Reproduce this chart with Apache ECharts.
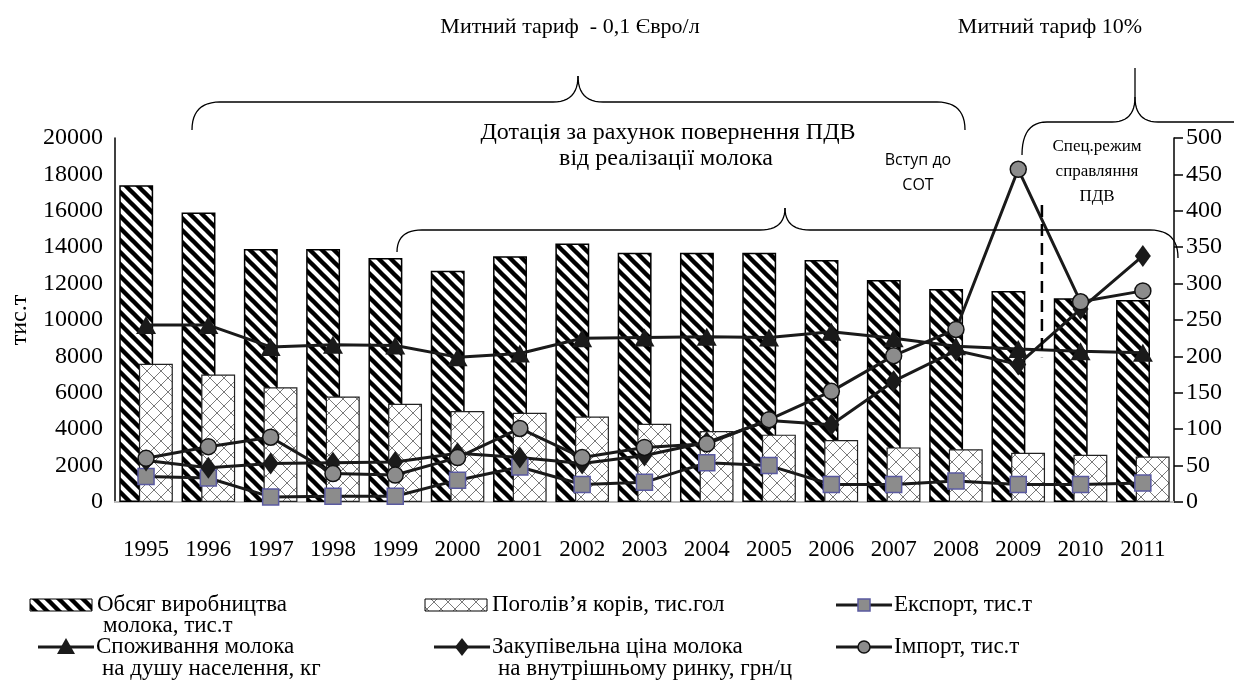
<!DOCTYPE html>
<html><head><meta charset="utf-8">
<script src="https://cdn.jsdelivr.net/npm/echarts@6/dist/echarts.min.js"></script>
<style>html,body{margin:0;padding:0;background:#fff}#c{width:1234px;height:700px}</style>
</head><body><div id="c"></div>
<script>
const years = ['1995','1996','1997','1998','1999','2000','2001','2002','2003','2004','2005','2006','2007','2008','2009','2010','2011'];
const production = [17400,15900,13900,13900,13400,12700,13500,14200,13700,13700,13700,13300,12200,11700,11600,11200,11100];
const cows = [7600,7000,6300,5800,5400,5000,4900,4700,4300,3900,3700,3400,3000,2900,2700,2600,2500];
const exportT = [35,33,7,8,8,30,48,24,27,54,50,24,24,29,24,24,26];
const price = [57,47,53,54,55,67,61,53,64,82,112,106,166,208,189,265,338];
const importT = [60,76,89,39,37,61,101,61,75,80,113,152,201,237,457,275,290];
const consumption = [243,243,213,216,215,199,204,225,226,227,226,234,225,214,210,207,205];
const leftTicks = [0,20000,2000];
const rightTicks = [0,500,50];

const SERIF = '"Liberation Serif","Times New Roman",serif';
const SANS = '"Open Sans","Noto Sans",sans-serif';

function stripeCanvas(){
  const s=12,c=document.createElement('canvas');c.width=s;c.height=s;
  const g=c.getContext('2d');g.fillStyle='#fff';g.fillRect(0,0,s,s);
  g.strokeStyle='#000';g.lineWidth=4.4;g.beginPath();
  for(let k=-1;k<=1;k++){g.moveTo(-3,-3+k*s);g.lineTo(s+3,s+3+k*s);}
  g.stroke();return c;
}
function crossCanvas(){
  const s=14,c=document.createElement('canvas');c.width=s;c.height=s;
  const g=c.getContext('2d');g.fillStyle='#fff';g.fillRect(0,0,s,s);
  g.strokeStyle='#7a7a7a';g.lineWidth=1;g.beginPath();
  for(let k=-1;k<=1;k++){g.moveTo(-2,-2+k*s);g.lineTo(s+2,s+2+k*s);g.moveTo(-2,s+2+k*s);g.lineTo(s+2,-2+k*s);}
  g.stroke();return c;
}
const stripePat={image:stripeCanvas(),repeat:'repeat'};
const crossPat={image:crossCanvas(),repeat:'repeat'};

const chart=echarts.init(document.getElementById('c'),null,{renderer:'canvas'});
const LW=3;
const lineBase={type:'line',yAxisIndex:1,lineStyle:{color:'#1a1a1a',width:LW},itemStyle:{color:'#1a1a1a'},z:3,animation:false};
const plain=v=>String(v);
const AF=24;
chart.setOption({
  animation:false,
  grid:{left:111,right:60,top:138,bottom:198},
  xAxis:{type:'category',data:years,axisLine:{lineStyle:{color:'#bdbdbd',width:2}},axisTick:{show:false},
    axisLabel:{color:'#000',fontFamily:SERIF,fontSize:23,margin:36,interval:0,hideOverlap:false}},
  yAxis:[
    {type:'value',min:leftTicks[0],max:leftTicks[1],interval:leftTicks[2],splitLine:{show:false},
     axisLine:{show:true,lineStyle:{color:'#000',width:1.5}},axisTick:{show:false},
     axisLabel:{color:'#000',fontFamily:SERIF,fontSize:AF,margin:12,formatter:plain},
     name:'тис.т',nameLocation:'middle',nameRotate:90,nameGap:72,nameTextStyle:{color:'#000',fontFamily:SERIF,fontSize:24}},
    {type:'value',min:rightTicks[0],max:rightTicks[1],interval:rightTicks[2],splitLine:{show:false},
     axisLine:{show:true,lineStyle:{color:'#000',width:1.5}},axisTick:{show:true,inside:false,length:9,lineStyle:{color:'#000',width:1.5}},
     axisLabel:{color:'#000',fontFamily:SERIF,fontSize:AF,margin:12,formatter:plain}}
  ],
  series:[
    {name:'Обсяг виробництва молока, тис.т',type:'bar',data:production,barCategoryGap:'14%',barGap:'-42%',
     itemStyle:{color:stripePat,borderColor:'#000',borderWidth:1.5},z:1},
    {name:'Поголів’я корів, тис.гол',type:'bar',data:cows,
     itemStyle:{color:crossPat,borderColor:'#222',borderWidth:1.2},z:1},
    Object.assign({},lineBase,{name:'Експорт, тис.т',data:exportT,symbol:'rect',symbolSize:16,
      itemStyle:{color:'#8c8c8c',borderColor:'#5a5aa0',borderWidth:1.5}}),
    Object.assign({},lineBase,{name:'Закупівельна ціна молока',data:price,symbol:'diamond',symbolSize:[16,22]}),
    Object.assign({},lineBase,{name:'Імпорт, тис.т',data:importT,symbol:'circle',symbolSize:16,
      itemStyle:{color:'#8c8c8c',borderColor:'#111',borderWidth:1.5}}),
    Object.assign({},lineBase,{name:'Споживання молока',data:consumption,symbol:'triangle',symbolSize:[20,18]})
  ]
});

// helpers
function txt(x,y,t,size,font,align){return {type:'text',x:x,y:y,style:{text:t,fill:'#000',font:size+'px '+(font||SERIF),textAlign:align||'center',textVerticalAlign:'middle'},z:10};}
function brace(start,segs){
  const pts=[start.slice()];let cur=start.slice();
  segs.forEach(s=>{
    if(s[0]==='L'){pts.push([s[1],s[2]]);cur=[s[1],s[2]];}
    else {const c=[s[1],s[2]],e=[s[3],s[4]];
      for(let i=1;i<=12;i++){const t=i/12,a=(1-t)*(1-t),b=2*(1-t)*t,d=t*t;
        pts.push([a*cur[0]+b*c[0]+d*e[0],a*cur[1]+b*c[1]+d*e[1]]);}
      cur=e;}
  });
  return {type:'polyline',shape:{points:pts},style:{fill:null,stroke:'#000',lineWidth:1.3},z:10};
}
const p14=chart.convertToPixel({xAxisIndex:0},14), p15=chart.convertToPixel({xAxisIndex:0},15);
const dashX=p14+(p15-p14)*0.38;
const dTop=chart.convertToPixel({yAxisIndex:1},408), dBot=chart.convertToPixel({yAxisIndex:1},199);

const graphics=[
  txt(570,27,'Митний тариф  - 0,1 Євро/л',22),
  txt(1050,27,'Митний тариф 10%',22),
  brace([192,130],[['Q',192,102,220,102],['L',553,102],['Q',578,102,578,76]]),
  brace([965,130],[['Q',965,102,937,102],['L',603,102],['Q',578,102,578,76]]),
  brace([397,252],[['Q',397,230,422,230],['L',760,230],['Q',785,230,785,208]]),
  brace([1178,258],[['Q',1178,230,1150,230],['L',810,230],['Q',785,230,785,208]]),
  brace([1022,155],[['Q',1022,122,1047,122],['L',1112,122],['Q',1135,122,1135,97],['L',1135,68]]),
  brace([1234,122],[['L',1158,122],['Q',1135,122,1135,97]]),
  txt(668,133,'Дотація за рахунок повернення ПДВ',24),
  txt(666,159,'від реалізації молока',24),
  txt(918,160,'Вступ до',16,SANS),
  txt(918,185,'СОТ',16,SANS),
  txt(1097,147,'Спец.режим',17),
  txt(1097,172,'справляння',17),
  txt(1097,197,'ПДВ',17),
  {type:'line',shape:{x1:dashX,y1:dTop,x2:dashX,y2:dBot},style:{stroke:'#000',lineWidth:2.5,lineDash:[12,7]},z:10}
];
// legend
const LF=23;
function legRect(x,y,pat,label,label2){
  const g=[{type:'rect',shape:{x:x,y:y-6,width:62,height:12},style:{fill:pat,stroke:'#000',lineWidth:1},z:10},
    txt(x+67,y,label,LF,SERIF,'left')];
  if(label2) g.push(txt(x+73,y+21,label2,LF,SERIF,'left'));
  return g;
}
function legLine(x,y,sym,label,label2){
  const g=[{type:'line',shape:{x1:x,y1:y,x2:x+56,y2:y},style:{stroke:'#1a1a1a',lineWidth:LW},z:10}];
  const cx=x+28;
  if(sym==='rect') g.push({type:'rect',shape:{x:cx-6,y:y-6,width:12,height:12},style:{fill:'#8c8c8c',stroke:'#5a5aa0',lineWidth:1.5},z:11});
  if(sym==='circle') g.push({type:'circle',shape:{cx:cx,cy:y,r:6},style:{fill:'#8c8c8c',stroke:'#111',lineWidth:1.5},z:11});
  if(sym==='triangle') g.push({type:'polygon',shape:{points:[[cx,y-9],[cx+9,y+7],[cx-9,y+7]]},style:{fill:'#1a1a1a'},z:11});
  if(sym==='diamond') g.push({type:'polygon',shape:{points:[[cx,y-9],[cx+7,y],[cx,y+9],[cx-7,y]]},style:{fill:'#1a1a1a'},z:11});
  g.push(txt(x+58,y,label,LF,SERIF,'left'));
  if(label2) g.push(txt(x+64,y+22,label2,LF,SERIF,'left'));
  return g;
}
graphics.push(...legRect(30,605,stripePat,'Обсяг виробництва','молока, тис.т'));
graphics.push(...legRect(425,605,crossPat,'Поголів’я корів, тис.гол'));
graphics.push(...legLine(836,605,'rect','Експорт, тис.т'));
graphics.push(...legLine(38,647,'triangle','Споживання молока','на душу населення, кг'));
graphics.push(...legLine(434,647,'diamond','Закупівельна ціна молока','на внутрішньому ринку, грн/ц'));
graphics.push(...legLine(836,647,'circle','Імпорт, тис.т'));
chart.setOption({graphic:{elements:graphics}});
</script></body></html>
